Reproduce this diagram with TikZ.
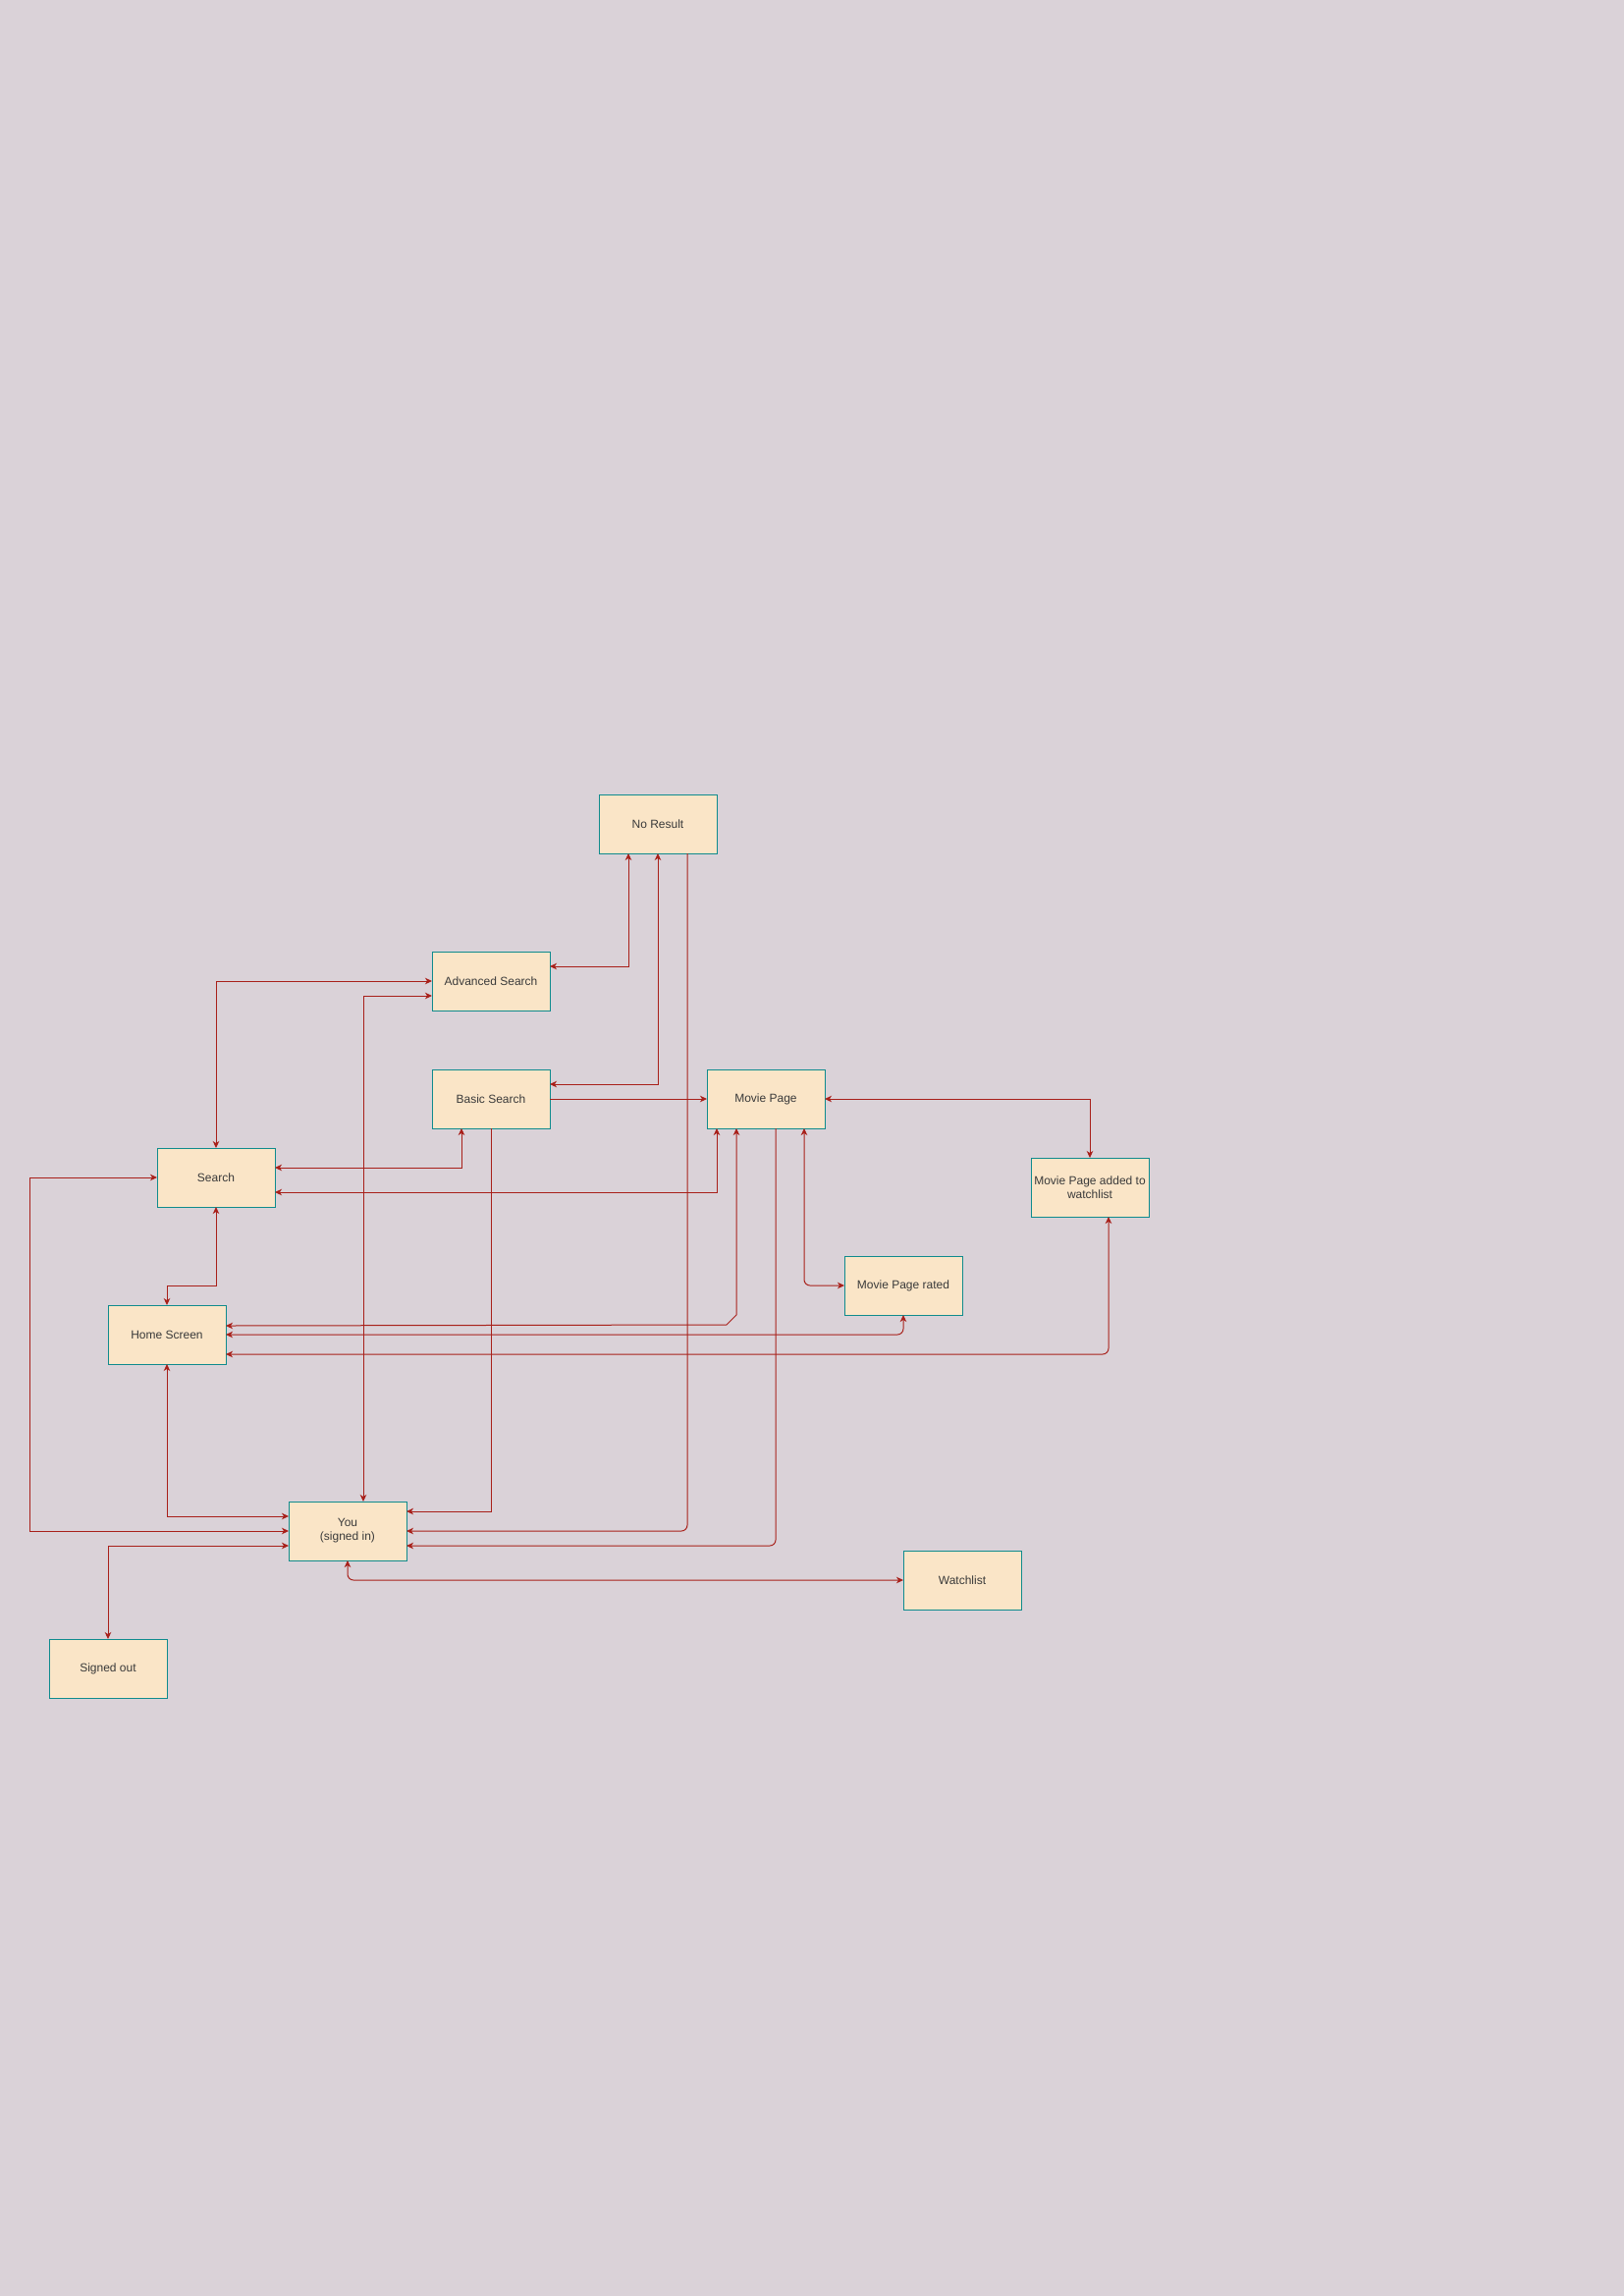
\documentclass[tikz,border=0pt]{standalone}
\usepackage{fontspec}
\setmainfont{Liberation Sans}
\usetikzlibrary{arrows.meta,calc}
\definecolor{bgc}{HTML}{DAD2D8}
\definecolor{boxfill}{HTML}{FAE5C7}
\definecolor{boxline}{HTML}{0F8B8D}
\definecolor{txtc}{HTML}{3A3A3A}
\definecolor{edgec}{HTML}{A8201A}
\tikzset{
  screen/.style={draw=boxline, fill=boxfill, line width=1pt, rectangle,
    minimum width=120pt, minimum height=60pt, inner sep=2pt, outer sep=0pt,
    align=center, text=txtc, font=\fontsize{12pt}{14pt}\selectfont},
  conn/.style={draw=edgec, line width=1pt},
  tip/.tip={Stealth[length=7pt,width=6.5pt,inset=2pt]},
  one/.style={conn, -tip},
  both/.style={conn, tip-tip},
  soft/.style={rounded corners=6pt}
}
\begin{document}
\begin{tikzpicture}[x=1pt,y=-1pt]
\fill[bgc] (0,0) rectangle (1654,2338);
\useasboundingbox (0,0) rectangle (1654,2338);

\node[screen] (nores)  at (670,839)  {No Result};
\node[screen] (adv)    at (500,999)  {Advanced Search};
\node[screen] (basic)  at (500,1119) {Basic Search};
\node[screen] (movie)  at (780,1119) {Movie Page};
\node[screen] (search) at (220,1199) {Search};
\node[screen] (mpa)    at (1110,1209) {Movie Page added to\\watchlist};
\node[screen] (mpr)    at (920,1309) {Movie Page rated};
\node[screen] (home)   at (170,1359) {Home Screen};
\node[screen] (you)    at (354,1559) {You\\(signed in)};
\node[screen] (watch)  at (980,1609) {Watchlist};
\node[screen] (signed) at (110,1699) {Signed out};

% Advanced / Basic search <-> No Result
\draw[both] ([yshift=15pt]adv.east) -| ([xshift=-30pt]nores.south);
\draw[both] ([yshift=15pt]basic.east) -| (nores.south);
% Basic Search -> Movie Page
\draw[one] (basic.east) -- (movie.west);
% No Result -> You
\draw[one,soft] ([xshift=30pt]nores.south) |- (you.east);
% Advanced Search <-> Search, You
\draw[both] (adv.west) -| (search.north);
\draw[both] ([yshift=-15pt]adv.west) -| ([xshift=16pt]you.north);
% Basic Search <-> Search, -> You
\draw[both] ([xshift=-30pt]basic.south) |- ([yshift=10pt]search.east);
\draw[one] (basic.south) |- ([yshift=20pt]you.east);
% Movie Page connections
\draw[both] ([xshift=-50pt]movie.south) |- ([yshift=-15pt]search.east);
\coordinate (mvb) at ([xshift=-30pt]movie.south);
\draw[both] (mvb) -- (mvb |- mpr.south) -- ++(-10,10) -- ([yshift=9pt]home.east);
\draw[one,soft] ([xshift=10pt]movie.south) |- ([yshift=-15pt]you.east);
\draw[both,soft] ([xshift=39pt]movie.south) |- (mpr.west);
\draw[both] (movie.east) -| (mpa.north);
% Movie Page added / rated <-> Home Screen
\draw[both,soft] ([xshift=19pt]mpa.south) |- ([yshift=-20pt]home.east);
\draw[both,soft] (mpr.south) |- (home.east);
% Search <-> You, Home
\draw[both] (search.west) -- ++(-130,0) |- (you.west);
\draw[both] (search.south) -- ++(0,80) -| (home.north);
% Home <-> You
\draw[both] (home.south) |- ([yshift=15pt]you.west);
% You <-> Signed out, Watchlist
\draw[both] ([yshift=-15pt]you.west) -| (signed.north);
\draw[both,soft] (you.south) |- (watch.west);
\end{tikzpicture}
\end{document}
